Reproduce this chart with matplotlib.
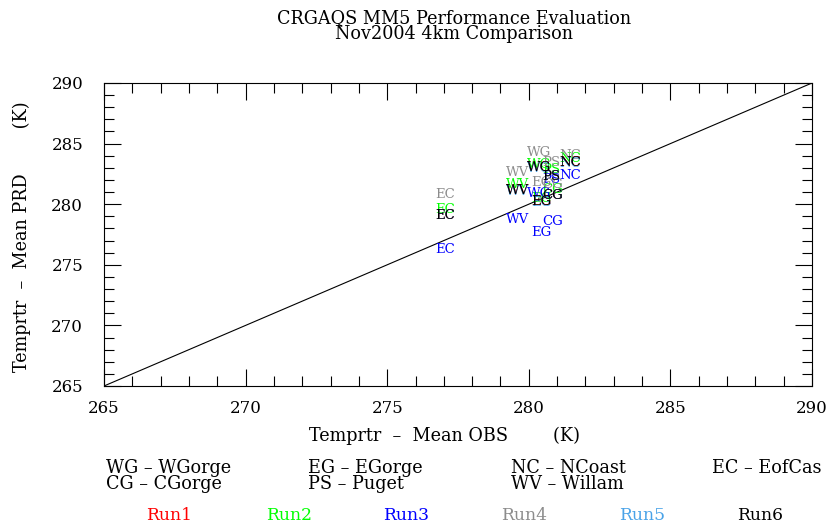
import matplotlib
matplotlib.use("Agg")
import matplotlib.pyplot as plt
from matplotlib.ticker import MultipleLocator

plt.rcParams["font.family"] = ["DejaVu Serif"]

# site codes and their mean observed temperature (K)
sites = ["WG", "EG", "NC", "EC", "CG", "PS", "WV"]
obs = [280.35, 280.45, 281.45, 277.05, 280.85, 280.8, 279.6]

# mean predicted temperature per run, same order as sites
run1 = [283.0, 280.2, 283.4, 279.1, 280.75, 282.3, 281.1]
run2 = [283.3, 280.5, 283.75, 279.6, 281.25, 282.9, 281.6]
run3 = [280.9, 277.7, 282.4, 276.25, 278.6, 282.0, 278.75]
run4 = [284.3, 281.75, 284.0, 280.8, 281.6, 283.4, 282.6]
run5 = [282.95, 280.15, 283.35, 279.05, 280.7, 282.25, 281.05]
run6 = [283.0, 280.2, 283.4, 279.1, 280.75, 282.3, 281.1]

runs = ["Run1", "Run2", "Run3", "Run4", "Run5", "Run6"]
run_colors = ["#ff0000", "#00ff00", "#0000ff", "#8c8c8c", "#4aa3e8", "#000000"]
run_values = [run1, run2, run3, run4, run5, run6]

site_names = [("WG", "WGorge"), ("EG", "EGorge"), ("NC", "NCoast"), ("EC", "EofCas"),
              ("CG", "CGorge"), ("PS", "Puget"), ("WV", "Willam")]

W, H = 829, 529
fig = plt.figure(figsize=(W / 100, H / 100), dpi=100)
ax = fig.add_axes([104 / W, 1 - 386 / H, 708 / W, 303 / H])

ax.plot([265, 290], [265, 290], color="black", linewidth=0.8)

for vals, col in zip(run_values, run_colors):
    for s, x, y in zip(sites, obs, vals):
        ax.text(x, y, s, color=col, fontsize=9.5, ha="center", va="center")

ax.set_xlim(265, 290)
ax.set_ylim(265, 290)
ax.xaxis.set_major_locator(MultipleLocator(5))
ax.yaxis.set_major_locator(MultipleLocator(5))
ax.xaxis.set_minor_locator(MultipleLocator(1))
ax.yaxis.set_minor_locator(MultipleLocator(1))
ax.tick_params(which="both", direction="in", top=True, right=True, labelsize=12, width=0.8)
ax.tick_params(which="major", length=12)
ax.tick_params(axis="x", which="major", pad=10)
ax.tick_params(axis="y", which="major", pad=15)
ax.tick_params(which="minor", length=7)
for sp in ax.spines.values():
    sp.set_linewidth(0.8)

# axis labels placed like the original (not quite centred on the axes)
fig.text(445 / W, 1 - 436 / H, "Temprtr  \u2013  Mean OBS        (K)", ha="center", va="center", fontsize=12.7)
fig.text(22 / W, 1 - 237 / H, "Temprtr  \u2013  Mean PRD        (K)", ha="center", va="center",
         rotation=90, fontsize=12.7)

fig.text(454 / W, 1 - 18 / H, "CRGAQS MM5 Performance Evaluation", ha="center", va="center", fontsize=12.7)
fig.text(454 / W, 1 - 34 / H, "Nov2004 4km Comparison", ha="center", va="center", fontsize=12.7)

# site key below the plot
col_x = [106, 308, 511, 712]
for i, (code, name) in enumerate(site_names):
    row = i // 4
    cx = col_x[i % 4]
    fig.text(cx / W, 1 - (468 + row * 16) / H, f"{code} \u2013 {name}",
             ha="left", va="center", fontsize=12.7)

run_x = [169, 289, 406, 524, 642, 760]
for name, col, rx in zip(runs, run_colors, run_x):
    fig.text(rx / W, 1 - 516 / H, name, color=col, ha="center", va="center", fontsize=12.3)

fig.savefig("out.png", dpi=100)
